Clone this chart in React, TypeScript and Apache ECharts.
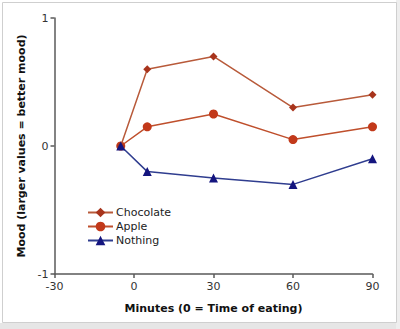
import React, { useEffect, useRef } from "react";
import * as echarts from "echarts";

const minutes = [-5, 5, 30, 60, 90];
const chocolate = [0, 0.6, 0.7, 0.3, 0.4];
const apple = [0, 0.15, 0.25, 0.05, 0.15];
const nothing = [0, -0.2, -0.25, -0.3, -0.1];
const xTicks = [-30, 0, 30, 60, 90];
const yTicks = [-1, 0, 1];

const FONT = "DejaVu Sans";

function pairs(ys: number[]) {
  return minutes.map((x, i) => [x, ys[i]]);
}

export default function App() {
  const ref = useRef<HTMLDivElement>(null);
  useEffect(() => {
    if (!ref.current) return;
    const chart = echarts.init(ref.current, null, { renderer: "svg" });
    const axisLine = { show: true, onZero: false, lineStyle: { color: "#5a5a5a", width: 1.5 } };
    chart.setOption({
      animation: false,
      backgroundColor: "#ffffff",
      graphic: [
        { type: "rect", shape: { x: 0, y: 323, width: 400, height: 6 }, style: { fill: "#e6e6e6" }, silent: true },
        { type: "rect", shape: { x: 396, y: 0, width: 4, height: 329 }, style: { fill: "#eeeeee" }, silent: true },
        { type: "rect", shape: { x: 2.5, y: 2.5, width: 394, height: 320 }, style: { fill: "none", stroke: "#cfcfcf", lineWidth: 1 }, silent: true },
      ],
      grid: { left: 54.5, right: 27.5, top: 18, bottom: 55, containLabel: false },
      legend: {
        orient: "vertical",
        left: 82,
        top: 202,
        itemWidth: 25,
        itemHeight: 12,
        itemGap: 3,
        textStyle: { fontFamily: FONT, fontSize: 11, color: "#222", padding: [0, 0, 0, -2] },
        data: ["Chocolate", "Apple", "Nothing"],
      },
      xAxis: {
        type: "value",
        min: xTicks[0],
        max: xTicks[xTicks.length - 1],
        interval: 30,
        axisLine,
        axisTick: { show: true, length: 4, lineStyle: { color: "#5a5a5a", width: 1.5 } },
        splitLine: { show: false },
        axisLabel: { fontFamily: FONT, fontSize: 11, color: "#333", margin: 7 },
        name: "Minutes (0 = Time of eating)",
        nameLocation: "middle",
        nameGap: 29,
        nameTextStyle: { fontFamily: FONT, fontSize: 11, fontWeight: "bold", color: "#111" },
      },
      yAxis: {
        type: "value",
        min: yTicks[0],
        max: yTicks[yTicks.length - 1],
        interval: 1,
        axisLine,
        axisTick: { show: true, length: 4, lineStyle: { color: "#5a5a5a", width: 1.5 } },
        splitLine: { show: false },
        axisLabel: { fontFamily: FONT, fontSize: 11, color: "#333", margin: 6 },
        name: "Mood (larger values = better mood)",
        nameLocation: "middle",
        nameGap: 28,
        nameTextStyle: { fontFamily: FONT, fontSize: 11, fontWeight: "bold", color: "#111" },
      },
      series: [
        {
          name: "Chocolate",
          type: "line",
          data: pairs(chocolate),
          symbol: "diamond",
          symbolSize: 8,
          lineStyle: { color: "#b85a3a", width: 1.5 },
          itemStyle: { color: "#a8341c" },
          z: 3,
        },
        {
          name: "Apple",
          type: "line",
          data: pairs(apple),
          symbol: "circle",
          symbolSize: 9,
          lineStyle: { color: "#bf4f2c", width: 1.5 },
          itemStyle: { color: "#c2391a" },
          z: 2,
        },
        {
          name: "Nothing",
          type: "line",
          data: pairs(nothing),
          symbol: "triangle",
          symbolSize: 9,
          lineStyle: { color: "#2f3d8f", width: 1.5 },
          itemStyle: { color: "#14157f" },
          z: 4,
        },
      ],
    });
    return () => chart.dispose();
  }, []);
  return (
    <div
      ref={ref}
      style={{ position: "fixed", left: 0, top: 0, width: 400, height: 329 }}
    />
  );
}
